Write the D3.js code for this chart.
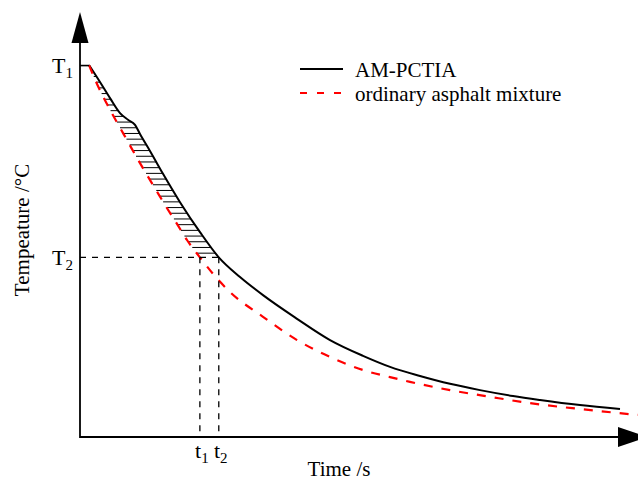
<!DOCTYPE html>
<html>
<head>
<meta charset="utf-8">
<script src="https://cdn.jsdelivr.net/npm/d3@7"></script>
<style>
body{margin:0;background:#fff}
text{font-family:"Liberation Serif","Times New Roman",serif;fill:#000}
</style>
</head>
<body>
<div id="chart"></div>
<script>
// AM-PCTIA cooling curve (time, temperature)
var amTime = [1.67, 3.70, 5.56, 7.41, 8.89, 10.19, 11.11, 12.96, 15.37, 18.52, 22.22, 25.7, 29.63, 33.89, 40.19, 46.30, 52.41, 57.41, 62.96, 68.52, 74.07, 80.19, 85.19, 92.59, 100]
var amTemp = [94.4, 90.1, 86.0, 82.2, 80.5, 79.2, 76.9, 72.6, 66.8, 59.6, 52.0, 45.6, 40.6, 36.0, 30.0, 24.6, 20.6, 17.8, 15.5, 13.5, 11.9, 10.4, 9.4, 8.1, 7.1]

// ordinary asphalt mixture
var oamTime = [1.67, 3.15, 5.0, 7.04, 8.89, 10.56, 12.41, 14.07, 15.74, 17.96, 19.81, 22.2, 24.63, 27.78, 33.89, 40.19, 46.30, 52.41, 57.41, 61.11, 68.52, 75.93, 83.33, 92.59, 103.3]
var oamTemp = [94.4, 89.6, 84.5, 79.4, 74.9, 70.8, 66.5, 62.7, 58.9, 54.1, 50.0, 45.6, 41.4, 36.8, 30.5, 24.6, 20.3, 17.0, 15.2, 14.0, 11.9, 10.2, 8.6, 7.1, 5.6]

var seriesNames = ["AM-PCTIA", "ordinary asphalt mixture"]
var tempLevels = [94.4, 45.6]      // T1, T2
var tempLabels = ["1", "2"]
var timeMarks = [22.2, 25.7]       // t1, t2
var timeLabels = ["1", "2"]

var width = 638, height = 480

var svg = d3.select("#chart").append("svg")
  .attr("width", width)
  .attr("height", height)

var x = d3.scaleLinear().domain([0, 100]).range([80, 620])
var y = d3.scaleLinear().domain([0, 100]).range([437, 43])

var line = d3.line()
  .x(function(d){ return x(d[0]) })
  .y(function(d){ return y(d[1]) })
  .curve(d3.curveMonotoneX)

var amData = amTime.map(function(t, i){ return [t, amTemp[i]] })
var oamData = oamTime.map(function(t, i){ return [t, oamTemp[i]] })

var hatchG = svg.append("g")

var amPath = svg.append("path")
  .datum(amData)
  .attr("d", line)
  .attr("fill", "none")
  .attr("stroke", "#000")
  .attr("stroke-width", 2)

var oamPath = svg.append("path")
  .datum(oamData)
  .attr("d", line)
  .attr("fill", "none")
  .attr("stroke", "#ff0000")
  .attr("stroke-width", 2.2)
  .attr("stroke-dasharray", "9,9")

// x position of a path at a given pixel y (curves fall monotonically)
function sampler(path){
  var node = path.node(), len = node.getTotalLength(), pts = []
  for (var i = 0; i <= 800; i++) {
    var p = node.getPointAtLength(len * i / 800)
    pts.push([p.x, p.y])
  }
  return function(py){
    for (var j = 1; j < pts.length; j++) {
      var a = pts[j-1], b = pts[j]
      if ((a[1] - py) * (b[1] - py) <= 0 && a[1] != b[1]) {
        return a[0] + (b[0] - a[0]) * (py - a[1]) / (b[1] - a[1])
      }
    }
    return null
  }
}

var amAt = sampler(amPath)
var oamAt = sampler(oamPath)

var hatchY = d3.range(y(tempLevels[0]) + 5.7, y(tempLevels[1]), 5.7)
hatchY.forEach(function(py){
  var x0 = oamAt(py), x1 = amAt(py)
  if (x0 == null || x1 == null || x1 <= x0) return
  hatchG.append("line")
    .attr("x1", x0).attr("x2", x1)
    .attr("y1", py).attr("y2", py)
    .attr("stroke", "#000")
    .attr("stroke-width", 1)
})

// reference dashed lines at T2 / t1 / t2
var refG = svg.append("g")
refG.append("line")
  .attr("x1", x(0)).attr("x2", x(timeMarks[1]))
  .attr("y1", y(tempLevels[1])).attr("y2", y(tempLevels[1]))
timeMarks.forEach(function(t){
  refG.append("line")
    .attr("x1", x(t)).attr("x2", x(t))
    .attr("y1", y(tempLevels[1])).attr("y2", y(0))
})
refG.selectAll("line")
  .attr("stroke", "#000")
  .attr("stroke-width", 1.3)
  .attr("stroke-dasharray", "6,6")

// T1 tick
svg.append("g")
  .attr("transform", "translate(" + x(0) + ",0)")
  .call(d3.axisLeft(y).tickValues([tempLevels[0]]).tickSize(-9).tickFormat(""))
  .call(function(g){ g.select(".domain").remove() })
  .selectAll("line").attr("stroke-width", 1.6)

// axes with arrows
svg.append("line")
  .attr("x1", x(0)).attr("x2", x(0))
  .attr("y1", y(0) + 1).attr("y2", 40)
  .attr("stroke", "#000").attr("stroke-width", 1.8)
svg.append("path")
  .attr("d", "M" + (x(0) - 8.5) + ",43L" + x(0) + ",12L" + (x(0) + 8.5) + ",43Z")
  .attr("fill", "#000")
svg.append("line")
  .attr("x1", x(0)).attr("x2", 620)
  .attr("y1", y(0)).attr("y2", y(0))
  .attr("stroke", "#000").attr("stroke-width", 1.8)
svg.append("path")
  .attr("d", "M618," + (y(0) - 10) + "L648," + y(0) + "L618," + (y(0) + 10) + "Z")
  .attr("fill", "#000")

function subLabel(px, py, main, sub, anchor){
  var t = svg.append("text")
    .attr("x", px).attr("y", py)
    .attr("text-anchor", anchor)
    .style("font-size", "22px")
  t.append("tspan").text(main)
  t.append("tspan").attr("dy", 5).style("font-size", "15px").text(sub)
}

tempLevels.forEach(function(v, i){
  subLabel(73, y(v) + 8, "T", tempLabels[i], "end")
})
timeMarks.forEach(function(v, i){
  subLabel(x(v) + 2, 458, "t", timeLabels[i], "middle")
})

svg.append("text")
  .attr("x", 339).attr("y", 476)
  .attr("text-anchor", "middle")
  .style("font-size", "21px")
  .text("Time /s")

svg.append("text")
  .attr("transform", "translate(29,230) rotate(-90)")
  .attr("text-anchor", "middle")
  .style("font-size", "21px")
  .text("Tempeature /°C")

// legend
var legend = svg.append("g")
seriesNames.forEach(function(name, i){
  var ly = 69 + i * 24
  legend.append("line")
    .attr("x1", 300).attr("x2", 343)
    .attr("y1", ly).attr("y2", ly)
    .attr("stroke", i == 0 ? "#000" : "#ff0000")
    .attr("stroke-width", 2)
    .attr("stroke-dasharray", i == 0 ? null : "7,10")
  legend.append("text")
    .attr("x", 355).attr("y", ly + 8)
    .style("font-size", "21px")
    .text(name)
})
</script>
</body>
</html>
